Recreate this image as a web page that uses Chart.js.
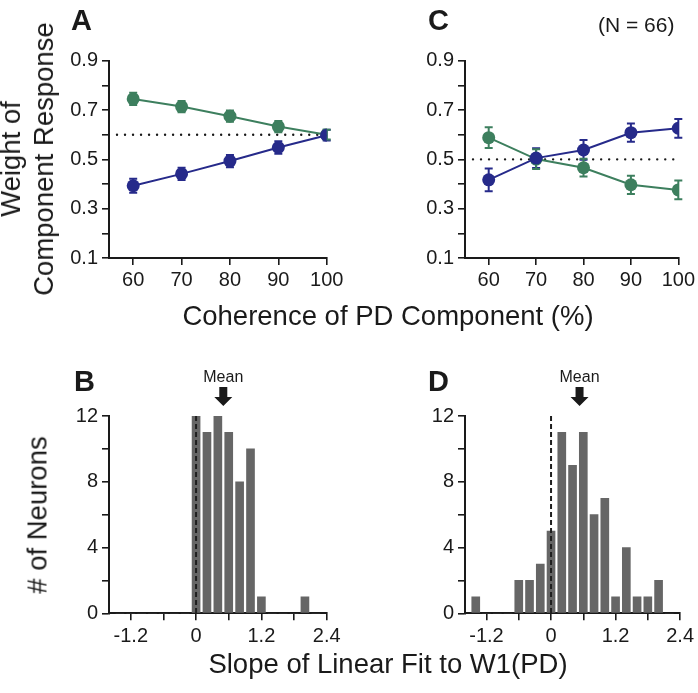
<!DOCTYPE html>
<html><head><meta charset="utf-8">
<script src="https://cdn.jsdelivr.net/npm/chart.js@4/dist/chart.umd.min.js"></script>
<style>
html,body{margin:0;padding:0;background:#fff;}
#wrap{position:relative;width:698px;height:693px;overflow:hidden;font-family:'Liberation Sans',Arial,Helvetica,sans-serif;color:#1a1a1a;background:#fff;}
canvas{position:absolute;left:0;top:0;}
.t{position:absolute;white-space:pre;line-height:1;}
.rot{position:absolute;white-space:pre;text-align:center;transform:translate(-50%,-50%) rotate(-90deg);}
</style></head><body>
<div id="wrap">
<canvas id="cA" width="698" height="693" style="width:698px;height:693px"></canvas>
<canvas id="cC" width="698" height="693" style="width:698px;height:693px"></canvas>
<canvas id="cB" width="698" height="693" style="width:698px;height:693px"></canvas>
<canvas id="cD" width="698" height="693" style="width:698px;height:693px"></canvas>
<div class="t" style="left:71px;top:6px;font-size:29px;font-weight:bold;">A</div>
<div class="t" style="left:428px;top:6px;font-size:29px;font-weight:bold;">C</div>
<div class="t" style="left:74px;top:367px;font-size:29px;font-weight:bold;">B</div>
<div class="t" style="left:428px;top:367px;font-size:29px;font-weight:bold;">D</div>
<div class="t" style="left:598px;top:14px;font-size:21px;">(N = 66)</div>
<div class="rot" style="left:27px;top:159px;font-size:27.5px;line-height:33px;">Weight of
Component Response</div>
<div class="rot" style="left:37px;top:515px;font-size:27.5px;line-height:33px;">#&nbsp;of Neurons</div>
<div class="t" style="left:388px;top:302px;font-size:27.5px;transform:translateX(-50%);">Coherence of PD Component (%)</div>
<div class="t" style="left:388px;top:650px;font-size:27.5px;transform:translateX(-50%);">Slope of Linear Fit to W1(PD)</div>
</div>
<script>
// ---------- data ----------
const coherence = [60, 70, 80, 90, 100];
const weightA_pd   = [0.393, 0.441, 0.493, 0.548, 0.598];   // blue
const errA_pd      = [0.028, 0.025, 0.025, 0.025, 0.022];
const weightA_npd  = [0.745, 0.714, 0.675, 0.633, 0.600];   // green
const errA_npd     = [0.025, 0.023, 0.023, 0.023, 0.020];
const weightC_pd   = [0.417, 0.505, 0.538, 0.608, 0.626];   // blue
const errC_pd      = [0.046, 0.040, 0.040, 0.037, 0.038];
const weightC_npd  = [0.588, 0.501, 0.466, 0.397, 0.376];   // green
const errC_npd     = [0.042, 0.040, 0.036, 0.037, 0.038];
const refLevelA = 0.6;
const refLevelC = 0.5;

const binCenters = [-1.4, -1.2, -1.0, -0.8, -0.6, -0.4, -0.2, 0, 0.2, 0.4, 0.6, 0.8, 1.0, 1.2, 1.4, 1.6, 1.8, 2.0, 2.2];
const countsB    = [0, 0, 0, 0, 0, 0, 0, 12, 11, 12, 11, 8, 10, 1, 0, 0, 0, 1, 0];
const countsD    = [1, 0, 0, 0, 2, 2, 3, 5, 11, 9, 11, 6, 7, 1, 4, 1, 1, 2, 0];
const meanB = 0.50;
const meanD = 0.53;

const lineXTicks  = [60, 70, 80, 90, 100];
const lineXLabels = ['60', '70', '80', '90', '100'];
const lineYTicks  = [0.1, 0.2, 0.3, 0.4, 0.5, 0.6, 0.7, 0.8, 0.9];
const lineYLabels = ['0.1', '', '0.3', '', '0.5', '', '0.7', '', '0.9'];
const histXTicks  = [-1.2, -0.6, 0, 0.6, 1.2, 1.8, 2.4];
const histXLabels = ['-1.2', '', '0', '', '1.2', '', '2.4'];
const histYTicks  = [0, 2, 4, 6, 8, 10, 12];
const histYLabels = ['0', '', '4', '', '8', '', '12'];

// ---------- style ----------
const FONT = "'Liberation Sans', Arial, Helvetica, sans-serif";
Chart.defaults.font.family = FONT;
Chart.defaults.color = '#1a1a1a';
const GREEN = '#3d7f5e';
const BLUE = '#262a8a';
const INK = '#1a1a1a';

function axis(min, max, tickVals, tickLabels, isY, fitSize, pad) {
  return {
    type: 'linear', min: min, max: max, offset: false,
    afterBuildTicks: s => { s.ticks = tickVals.map(v => ({ value: v })); },
    afterFit: s => { if (isY) s.width = fitSize; else s.height = fitSize; },
    border: { display: true, color: INK, width: 2 },
    grid: { drawOnChartArea: false, drawTicks: true, tickLength: 7, color: INK, lineWidth: 1.6, offset: false },
    ticks: { autoSkip: false, maxRotation: 0, padding: pad, color: INK, font: { size: 20, family: FONT },
             callback: (v, i) => tickLabels[i] }
  };
}

const refLinePlugin = {
  id: 'refLine',
  beforeDatasetsDraw(chart, args, opts) {
    const ctx = chart.ctx, x = chart.scales.x, y = chart.scales.y;
    const py = y.getPixelForValue(opts.level);
    ctx.save();
    ctx.strokeStyle = INK; ctx.lineWidth = 2.4; ctx.lineCap = 'round';
    ctx.setLineDash([0.01, 8]);
    ctx.beginPath();
    ctx.moveTo(chart.chartArea.left + 8, py);
    ctx.lineTo(x.getPixelForValue(100), py);
    ctx.stroke();
    ctx.restore();
  }
};

const errorBarPlugin = {
  id: 'errBars',
  beforeDatasetsDraw(chart) {
    const ctx = chart.ctx, y = chart.scales.y;
    chart.data.datasets.forEach((ds, di) => {
      const meta = chart.getDatasetMeta(di);
      ctx.save();
      ctx.strokeStyle = ds.borderColor; ctx.lineWidth = 2;
      meta.data.forEach((pt, j) => {
        const v = ds.data[j].y, e = ds.errors[j];
        const t = y.getPixelForValue(v + e), b = y.getPixelForValue(v - e);
        ctx.beginPath();
        ctx.moveTo(pt.x, t); ctx.lineTo(pt.x, b);
        ctx.moveTo(pt.x - 4, t); ctx.lineTo(pt.x + 4, t);
        ctx.moveTo(pt.x - 4, b); ctx.lineTo(pt.x + 4, b);
        ctx.stroke();
      });
      ctx.restore();
    });
  }
};

const histMarksPlugin = {
  id: 'histMarks',
  afterDatasetsDraw(chart, args, opts) {
    const ctx = chart.ctx, x = chart.scales.x, y = chart.scales.y;
    const x0 = x.getPixelForValue(0);
    ctx.save();
    ctx.strokeStyle = '#1e1e1e'; ctx.lineWidth = 2;
    ctx.setLineDash([5, 3]);
    ctx.beginPath();
    ctx.moveTo(x0, y.getPixelForValue(12));
    ctx.lineTo(x0, y.getPixelForValue(0));
    ctx.stroke();
    ctx.setLineDash([]);
    // mean arrow
    const mx = x.getPixelForValue(opts.mean);
    const top = chart.chartArea.top;
    ctx.fillStyle = INK;
    ctx.beginPath();
    ctx.moveTo(mx - 4, top - 29);
    ctx.lineTo(mx + 4, top - 29);
    ctx.lineTo(mx + 4, top - 19);
    ctx.lineTo(mx + 9, top - 19);
    ctx.lineTo(mx, top - 10);
    ctx.lineTo(mx - 9, top - 19);
    ctx.lineTo(mx - 4, top - 19);
    ctx.closePath();
    ctx.fill();
    ctx.font = '16px ' + FONT;
    ctx.textAlign = 'center';
    ctx.textBaseline = 'alphabetic';
    ctx.fillText('Mean', mx, top - 34);
    ctx.restore();
  }
};

function makeLine(id, pd, pdErr, npd, npdErr, level, pad) {
  new Chart(document.getElementById(id), {
    type: 'line',
    data: {
      datasets: [
        { data: coherence.map((c, i) => ({ x: c, y: pd[i] })), errors: pdErr,
          borderColor: BLUE, backgroundColor: BLUE, borderWidth: 2, pointRadius: 6.5, pointBorderWidth: 0,
          pointBackgroundColor: BLUE, tension: 0 },
        { data: coherence.map((c, i) => ({ x: c, y: npd[i] })), errors: npdErr,
          borderColor: GREEN, backgroundColor: GREEN, borderWidth: 2, pointRadius: 6.5, pointBorderWidth: 0,
          pointBackgroundColor: GREEN, tension: 0 }
      ]
    },
    options: {
      responsive: false, animation: false, devicePixelRatio: 1,
      layout: { autoPadding: false, padding: pad },
      plugins: { legend: { display: false }, tooltip: { enabled: false }, refLine: { level: level } },
      scales: {
        x: axis(55, 100, lineXTicks, lineXLabels, false, 40, 3),
        y: axis(0.1, 0.9, lineYTicks, lineYLabels, true, 50, 4)
      }
    },
    plugins: [refLinePlugin, errorBarPlugin]
  });
}

function makeHist(id, counts, mean, pad) {
  new Chart(document.getElementById(id), {
    type: 'bar',
    data: {
      datasets: [{ data: binCenters.map((b, i) => ({ x: b, y: counts[i] })),
        backgroundColor: '#666666', borderWidth: 0, barThickness: 8 }]
    },
    options: {
      responsive: false, animation: false, devicePixelRatio: 1,
      layout: { autoPadding: false, padding: pad },
      plugins: { legend: { display: false }, tooltip: { enabled: false }, histMarks: { mean: mean } },
      scales: {
        x: axis(-1.6, 2.4, histXTicks, histXLabels, false, 40, 4),
        y: axis(0, 12, histYTicks, histYLabels, true, 50, 4)
      }
    },
    plugins: [histMarksPlugin]
  });
}

makeLine('cA', weightA_pd, errA_pd, weightA_npd, errA_npd, refLevelA, { left: 59, right: 371.3, top: 60.7, bottom: 395 });
makeLine('cC', weightC_pd, errC_pd, weightC_npd, errC_npd, refLevelC, { left: 415, right: 16, top: 60.7, bottom: 395 });
makeHist('cB', countsB, meanB, { left: 59, right: 371.3, top: 416, bottom: 39.7 });
makeHist('cD', countsD, meanD, { left: 415, right: 16, top: 416, bottom: 39.7 });
</script>
</body></html>
